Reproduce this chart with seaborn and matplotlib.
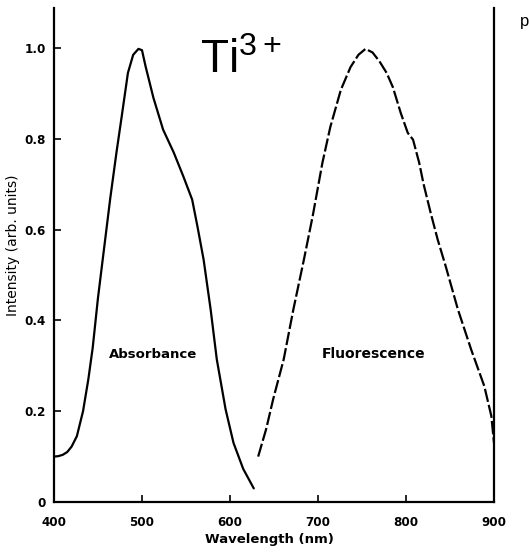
import matplotlib
matplotlib.use("Agg")
import matplotlib.pyplot as plt
import seaborn as sns
import pandas as pd

# Data
abs_wl = [400, 405, 410, 415, 420, 426, 433, 439, 444, 450, 457, 464, 471, 477, 484, 490, 496, 500,
          504, 513, 524, 536, 547, 557, 563, 570, 578, 585, 595, 604, 615, 627]
abs_val = [0.10, 0.101, 0.104, 0.11, 0.122, 0.145, 0.20, 0.27, 0.34, 0.45, 0.56, 0.67, 0.77, 0.85, 0.945, 0.985, 0.998, 0.995,
           0.96, 0.89, 0.82, 0.77, 0.717, 0.666, 0.607, 0.534, 0.424, 0.314, 0.204, 0.13, 0.073, 0.03]

fl_wl = [632, 641, 649, 661, 672, 684, 694, 705, 714, 726, 737, 746, 754, 762, 770, 778,
         785, 794, 802, 808, 815, 820, 828, 836, 845, 859, 874, 889, 897, 900]
fl_val = [0.10, 0.16, 0.226, 0.314, 0.424, 0.534, 0.63, 0.747, 0.826, 0.908, 0.958, 0.985, 0.998, 0.99, 0.97, 0.945,
          0.914, 0.857, 0.813, 0.798, 0.747, 0.70, 0.637, 0.578, 0.52, 0.424, 0.336, 0.255, 0.189, 0.13]

x_ticks = [400, 500, 600, 700, 800, 900]
y_ticks = [0, 0.2, 0.4, 0.6, 0.8, 1.0]
y_tick_labels = ["0", "0.2", "0.4", "0.6", "0.8", "1.0"]

sns.set_style("ticks")
plt.rcParams['font.family'] = ['DejaVu Sans']
plt.rcParams['text.color'] = 'black'
plt.rcParams['axes.labelcolor'] = 'black'

W, H = 529, 554
fig = plt.figure(figsize=(W / 100, H / 100), dpi=100)
ax = fig.add_axes([54 / W, 1 - 502 / H, (494 - 54) / W, (502 - 8) / H])

df_abs = pd.DataFrame({"wl": abs_wl, "val": abs_val})
df_fl = pd.DataFrame({"wl": fl_wl, "val": fl_val})

sns.lineplot(data=df_abs, x="wl", y="val", ax=ax, color="black", lw=1.6, sort=False)
sns.lineplot(data=df_fl, x="wl", y="val", ax=ax, color="black", lw=1.6, sort=False,
             dashes=False)
ax.lines[-1].set_dashes((6, 1.4))
for ln in ax.lines:
    ln.set_solid_joinstyle("round")
    ln.set_dash_joinstyle("round")

ax.set_xlim(400, 900)
ax.set_ylim(0, 1.088)
ax.set_xticks(x_ticks)
ax.set_xticklabels([str(t) for t in x_ticks])
ax.set_yticks(y_ticks)
ax.set_yticklabels(y_tick_labels)

for s in ["left", "bottom", "right"]:
    ax.spines[s].set_linewidth(1.6)
    ax.spines[s].set_color("black")
ax.spines["top"].set_visible(False)

ax.tick_params(direction="in", length=5, width=1.2, colors="black", labelsize=9.5)
ax.tick_params(axis="x", pad=10)
ax.tick_params(axis="y", pad=6)
for lab in ax.get_xticklabels() + ax.get_yticklabels():
    lab.set_fontweight("bold")
    lab.set_fontstretch("condensed")

ax.set_xlabel("Wavelength (nm)", fontsize=9.5, fontweight="bold", color="black")
ax.xaxis.set_label_coords(0.49, -0.063)
ax.set_ylabel("Intensity (arb. units)", fontsize=10, color="black")
ax.yaxis.set_label_coords(-0.078, 0.52)

ax.text(513, 0.325, "Absorbance", ha="center", va="center", fontsize=9.5,
        fontweight="bold", color="black")
ax.text(763, 0.325, "Fluorescence", ha="center", va="center", fontsize=10,
        fontweight="bold", color="black")

ax.text(566, 0.945, r"Ti$^{\mathregular{3+}}$", ha="left", va="baseline",
        fontsize=33, family="Liberation Sans", color="black")

fig.text(520 / W, 1 - 26 / H, "p", fontsize=12, family="Liberation Sans",
         va="baseline", color="black")

fig.savefig("out.png", dpi=100, facecolor="white")
